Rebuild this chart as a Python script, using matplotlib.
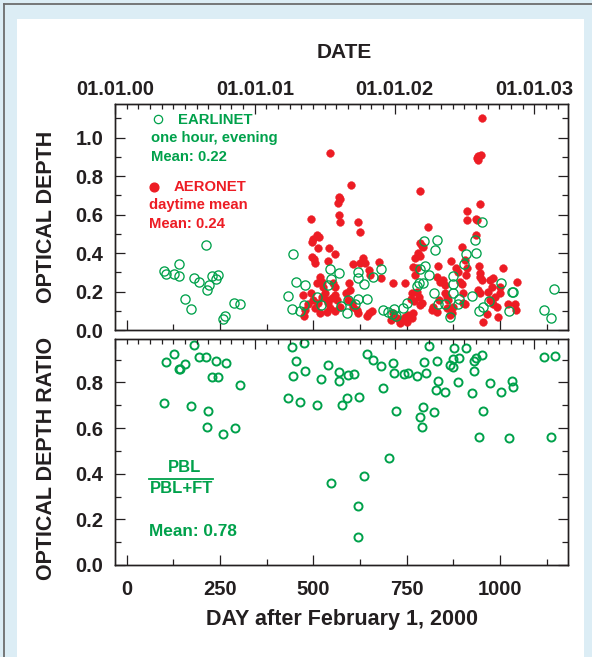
import matplotlib
matplotlib.use('Agg')
import matplotlib.pyplot as plt
from matplotlib.ticker import MultipleLocator, FixedLocator, NullFormatter
from matplotlib.patches import Rectangle
from matplotlib.lines import Line2D

# ---------------- data ----------------
earlinet_day = [101, 104, 127, 139, 141, 156, 172, 181, 194, 212, 216, 220, 228, 239, 244, 258, 264, 288, 304,
                433, 444, 446, 453, 464, 475, 478, 509, 520, 540, 545, 547, 570, 574, 589, 594, 612, 619, 620, 620,
                637, 643, 661, 680, 687, 701, 710, 717, 721, 741, 750, 777, 784, 786, 793, 796, 799, 811, 823, 826,
                832, 835, 853, 866, 873, 875, 875, 888, 890, 904, 909, 925, 933, 937, 945, 951, 955, 971, 1003, 1023,
                1031, 1036, 1119, 1136, 1146]
earlinet_aod = [0.307, 0.29, 0.29, 0.28, 0.345, 0.16, 0.11, 0.27, 0.25, 0.44, 0.21, 0.235, 0.28, 0.264, 0.286, 0.059,
                0.073, 0.14, 0.135,
                0.177, 0.108, 0.394, 0.251, 0.1, 0.13, 0.234, 0.17, 0.128, 0.234, 0.316, 0.267, 0.295, 0.125, 0.09,
                0.156, 0.134, 0.303, 0.272, 0.161, 0.238, 0.161, 0.277, 0.317, 0.104, 0.092, 0.083, 0.108, 0.073,
                0.113, 0.139, 0.229, 0.243, 0.316, 0.243, 0.461, 0.333, 0.288, 0.194, 0.416, 0.468, 0.135, 0.134,
                0.069, 0.239, 0.281, 0.194, 0.135, 0.16, 0.343, 0.394, 0.177, 0.468, 0.399, 0.1, 0.563, 0.118, 0.151,
                0.246, 0.1, 0.196, 0.196, 0.104, 0.062, 0.215]

aeronet_day = [545, 493, 497, 500, 509, 515, 513, 543, 558, 496, 503, 505, 569, 571, 567, 570, 572, 601, 620, 625,
               540, 605, 625, 634, 638, 676, 680, 650, 652, 714, 745, 559, 596, 518, 522, 511, 553, 493, 473, 487,
               479, 500, 504, 527, 536, 540, 545, 549, 558, 563, 571, 558, 536, 518, 476, 522, 531, 513, 587, 598,
               594, 603, 607, 616, 620, 643, 650, 656, 714, 708, 723, 732, 737, 745, 754, 750, 763, 768, 763, 761,
               770, 777, 784, 786, 790, 787, 806, 786, 790, 795, 772, 781, 786, 768, 777, 772, 817, 830, 821, 837,
               835, 830, 839, 848, 853, 853, 857, 862, 857, 871, 875, 866, 869, 881, 888, 893, 897, 900, 902, 897,
               911, 911, 906, 911, 909, 906, 939, 942, 950, 940, 951, 946, 936, 939, 937, 946, 946, 951, 944, 942,
               946, 964, 955, 973, 982, 978, 969, 973, 987, 982, 991, 995, 1000, 1000, 1009, 1022, 1040, 1043, 1045]
aeronet_aod = [0.922, 0.577, 0.46, 0.471, 0.494, 0.482, 0.428, 0.428, 0.395, 0.381, 0.368, 0.35, 0.69, 0.68, 0.662,
               0.598, 0.56, 0.754, 0.563, 0.51, 0.36, 0.342, 0.347, 0.373, 0.35, 0.352, 0.272, 0.312, 0.286, 0.246,
               0.246, 0.225, 0.243, 0.277, 0.251, 0.243, 0.246, 0.194, 0.182, 0.135, 0.104, 0.156, 0.113, 0.225,
               0.156, 0.139, 0.113, 0.165, 0.182, 0.156, 0.121, 0.1, 0.095, 0.087, 0.073, 0.173, 0.194, 0.139,
               0.191, 0.208, 0.156, 0.142, 0.118, 0.104, 0.087, 0.073, 0.087, 0.1, 0.087, 0.052, 0.061, 0.038,
               0.052, 0.069, 0.078, 0.043, 0.061, 0.087, 0.191, 0.16, 0.152, 0.199, 0.173, 0.13, 0.139, 0.723,
               0.537, 0.451, 0.438, 0.433, 0.376, 0.399, 0.385, 0.329, 0.32, 0.286, 0.104, 0.092, 0.121, 0.156,
               0.334, 0.277, 0.251, 0.26, 0.234, 0.194, 0.173, 0.156, 0.113, 0.087, 0.121, 0.078, 0.36, 0.324, 0.3,
               0.251, 0.238, 0.194, 0.139, 0.433, 0.619, 0.572, 0.364, 0.32, 0.286, 0.135, 0.893, 0.905, 0.91,
               0.884, 1.101, 0.655, 0.576, 0.572, 0.494, 0.295, 0.277, 0.26, 0.333, 0.208, 0.191, 0.083, 0.043,
               0.26, 0.269, 0.225, 0.199, 0.156, 0.173, 0.135, 0.118, 0.069, 0.191, 0.225, 0.32, 0.135, 0.135,
               0.104, 0.248]

ratio_day = [101, 104, 128, 139, 143, 156, 172, 181, 194, 212, 216, 217, 229, 239, 244, 259, 265, 289, 303,
             433, 443, 446, 454, 464, 475, 479, 510, 520, 540, 548, 568, 569, 576, 589, 594, 610, 620, 620, 622,
             637, 643, 659, 680, 687, 702, 713, 716, 721, 742, 753, 778, 786, 790, 793, 797, 801, 811, 824, 828,
             832, 835, 853, 866, 873, 875, 877, 888, 891, 908, 926, 930, 931, 937, 945, 951, 954, 972, 1003, 1024,
             1031, 1034, 1119, 1136, 1147]
ratio_val = [0.708, 0.891, 0.924, 0.858, 0.858, 0.879, 0.696, 0.964, 0.91, 0.911, 0.603, 0.673, 0.825, 0.895, 0.825,
             0.572, 0.886, 0.601, 0.788,
             0.73, 0.953, 0.829, 0.895, 0.715, 0.971, 0.85, 0.701, 0.815, 0.875, 0.359, 0.806, 0.847, 0.702, 0.731,
             0.832, 0.835, 0.26, 0.123, 0.734, 0.39, 0.923, 0.898, 0.873, 0.774, 0.47, 0.883, 0.842, 0.676, 0.835,
             0.841, 0.829, 0.65, 0.603, 0.692, 0.891, 0.84, 0.959, 0.672, 0.767, 0.894, 0.807, 0.756, 0.876, 0.869,
             0.901, 0.952, 0.8, 0.905, 0.949, 0.752, 0.851, 0.894, 0.908, 0.559, 0.92, 0.676, 0.799, 0.756, 0.558,
             0.806, 0.778, 0.91, 0.559, 0.917]

date_labels = ['01.01.00', '01.01.01', '01.01.02', '01.01.03']
date_months = [0, 12, 24, 36]
day_ticks = [0, 250, 500, 750, 1000]

# ---------------- style ----------------
GREEN = '#00a14b'
RED = '#ed1c24'
DARK = '#231f20'
plt.rcParams['font.family'] = ['Liberation Sans', 'DejaVu Sans']
plt.rcParams['font.weight'] = 'bold'

W, H = 592, 657
fig = plt.figure(figsize=(W / 100, H / 100), dpi=100)
fig.patch.set_facecolor('#dcedf5')
fig.add_artist(Rectangle((17 / W, 0), (584 - 17) / W, 1 - 19 / H, transform=fig.transFigure,
                         facecolor='white', edgecolor='none', zorder=-10))
fig.add_artist(Line2D([3.5 / W, 3.5 / W], [0, 1 - 3.5 / H], transform=fig.transFigure, color='#6d6d6d', lw=1.3))
fig.add_artist(Line2D([3.5 / W, 1], [1 - 3.5 / H, 1 - 3.5 / H], transform=fig.transFigure, color='#6d6d6d', lw=1.3))

ax1 = fig.add_axes([115 / W, 1 - 330 / H, 453.3 / W, 226.5 / H])
ax2 = fig.add_axes([115 / W, 1 - 565 / H, 453.3 / W, 225.7 / H])

XL = (-31.3, 1183)
for ax, ytop in ((ax1, 1.178), (ax2, 0.9885)):
    ax.set_facecolor('none')
    ax.set_xlim(*XL)
    ax.set_ylim(0, ytop)
    ax.xaxis.set_major_locator(FixedLocator(day_ticks))
    ax.xaxis.set_minor_locator(MultipleLocator(125))
    ax.yaxis.set_major_locator(MultipleLocator(0.2))
    ax.yaxis.set_minor_locator(MultipleLocator(0.1))
    ax.yaxis.set_major_formatter(matplotlib.ticker.FormatStrFormatter('%.1f'))
    for s in ax.spines.values():
        s.set_linewidth(1.0)
        s.set_color(DARK)
    ax.tick_params(axis='both', which='both', direction='in', color=DARK, width=0.9,
                   labelsize=14.5, labelcolor=DARK)
    ax.tick_params(axis='y', which='both', right=True, pad=8.5)
    ax.tick_params(axis='both', which='major', length=7)
    ax.tick_params(axis='both', which='minor', length=4)
    ax.tick_params(axis='x', pad=10.5)

    axt = ax.twiny()
    axt.set_xlim(0, 38.92)
    axt.xaxis.set_major_locator(FixedLocator(date_months))
    axt.xaxis.set_minor_locator(MultipleLocator(1))
    axt.tick_params(axis='x', which='both', direction='in', color=DARK, width=0.9,
                    labelsize=14.5, labelcolor=DARK, pad=3)
    axt.tick_params(axis='x', which='major', length=7)
    axt.tick_params(axis='x', which='minor', length=3.5)
    for s in axt.spines.values():
        s.set_linewidth(1.0)
        s.set_color(DARK)
    if ax is ax1:
        axt.set_xticklabels(date_labels)
    else:
        axt.xaxis.set_major_formatter(NullFormatter())

ax1.tick_params(axis='x', labelbottom=False)

# data
ax1.plot(aeronet_day, aeronet_aod, 'o', ms=5.6, mfc=RED, mec=RED, mew=0.3, zorder=3)
ax1.plot(earlinet_day, earlinet_aod, 'o', ms=6.6, mfc='none', mec=GREEN, mew=0.95, zorder=4)
ax2.plot(ratio_day, ratio_val, 'o', ms=5.8, mfc='none', mec=GREEN, mew=1.4, zorder=4)

# legend-like annotations, top panel
ax1.plot([0.0942], [0.9302], 'o', ms=6.0, mfc='none', mec=GREEN, mew=0.9, transform=ax1.transAxes, clip_on=False)
ax1.text(0.1383, 0.929, 'EARLINET', color=GREEN, fontsize=10.7, va='center', ha='left', transform=ax1.transAxes)
ax1.text(0.0794, 0.8477, 'one hour, evening', color=GREEN, fontsize=10.7, va='center', ha='left', transform=ax1.transAxes)
ax1.text(0.0794, 0.765, 'Mean: 0.22', color=GREEN, fontsize=10.7, va='center', ha='left', transform=ax1.transAxes)
ax1.plot([0.0867], [0.6327], 'o', ms=6.3, mfc=RED, mec=RED, transform=ax1.transAxes, clip_on=False)
ax1.text(0.130, 0.6327, 'AERONET', color=RED, fontsize=10.7, va='center', ha='left', transform=ax1.transAxes)
ax1.text(0.075, 0.552, 'daytime mean', color=RED, fontsize=10.7, va='center', ha='left', transform=ax1.transAxes)
ax1.text(0.075, 0.468, 'Mean: 0.24', color=RED, fontsize=10.7, va='center', ha='left', transform=ax1.transAxes)

# bottom panel annotations
ax2.text(0.1544, 0.434, 'PBL', color=GREEN, fontsize=12, va='center', ha='center', transform=ax2.transAxes)
ax2.plot([0.0757, 0.2155], [0.381, 0.381], color=GREEN, lw=1.3, transform=ax2.transAxes)
ax2.text(0.1456, 0.337, 'PBL+FT', color=GREEN, fontsize=12, va='center', ha='center', transform=ax2.transAxes)
ax2.text(0.075, 0.1475, 'Mean: 0.78', color=GREEN, fontsize=12.4, va='center', ha='left', transform=ax2.transAxes)

# axis titles
fig.text(46.7 / W, 1 - 216.7 / H, 'OPTICAL DEPTH', rotation=90, ha='center', va='center', fontsize=15.5, color=DARK)
fig.text(46.7 / W, 1 - 458 / H, 'OPTICAL DEPTH RATIO', rotation=90, ha='center', va='center', fontsize=15.5, color=DARK)
fig.text(342.5 / W, 1 - 620 / H, 'DAY after February 1, 2000', ha='center', va='center', fontsize=15.5, color=DARK)
fig.text(344 / W, 1 - 52.3 / H, 'DATE', ha='center', va='center', fontsize=15, color=DARK)

fig.savefig('out.png', dpi=100, facecolor=fig.get_facecolor())
